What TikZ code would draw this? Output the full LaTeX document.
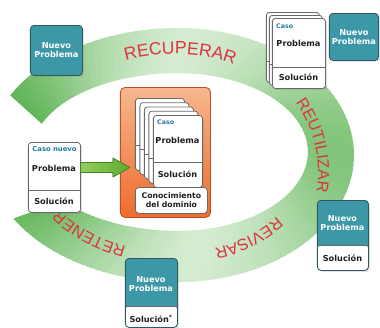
\documentclass[tikz,border=0pt]{standalone}
\usepackage{fontspec}
\setmainfont{DejaVu Sans}
\newfontfamily\ringfamily{Liberation Sans}
\usetikzlibrary{calc,decorations.text,shadows}

\definecolor{ringdark}{RGB}{72,170,62}
\definecolor{ringpale}{RGB}{236,246,233}
\definecolor{ringred}{RGB}{221,52,64}
\definecolor{tealbox}{RGB}{60,151,167}
\definecolor{tealline}{RGB}{48,88,98}
\definecolor{casoblue}{RGB}{35,125,165}
\definecolor{cardgray}{RGB}{105,105,105}
\definecolor{textdark}{RGB}{30,30,30}
\definecolor{orangetop}{RGB}{247,182,142}
\definecolor{orangebot}{RGB}{238,108,45}
\definecolor{orangeline}{RGB}{185,80,35}
\definecolor{arrowlight}{RGB}{150,205,90}
\definecolor{arrowdark}{RGB}{95,170,50}
\definecolor{arrowline}{RGB}{70,130,40}

\newcommand\ringword{\ringfamily\fontsize{15}{15}\selectfont\color{ringred}}
\newcommand\ringsmall{\ringfamily\fontsize{13.8}{14}\selectfont\color{ringred}}
\newcommand\cardfont{\bfseries\fontsize{7}{7.8}\selectfont}
\newcommand\tagfont{\bfseries\fontsize{5.4}{6}\selectfont}

\begin{document}
\begin{tikzpicture}[x=0.03cm,y=-0.03cm,line join=round,
  declare function={ringx(\t,\l,\r)=178+cos(\t)*(\l*(cos(\t)<0)+\r*(cos(\t)>=0));},
  softshadow/.style={drop shadow={shadow xshift=.05cm,shadow yshift=-.05cm,opacity=.22}},
  card/.style={draw=cardgray,fill=white,line width=.7pt,rounded corners=2.5pt,
    anchor=north west,inner sep=0pt,softshadow,
    path picture={\draw[cardgray,line width=.7pt]
      ([yshift=-#1]path picture bounding box.north west) --
      ([yshift=-#1]path picture bounding box.north east);}},
  npbox/.style={draw=tealline,fill=tealbox,line width=.7pt,rounded corners=3pt,
    anchor=north west,inner sep=0pt,softshadow},
  npcard/.style={npbox,
    path picture={\fill[white]
      ([yshift=-#1]path picture bounding box.north west) rectangle
      (path picture bounding box.south east);
      \draw[cardgray,line width=.7pt]
      ([yshift=-#1]path picture bounding box.north west) --
      ([yshift=-#1]path picture bounding box.north east);}},
  nplabel/.style={text=white,font=\cardfont,align=center,inner sep=0pt},
  cardtext/.style={text=textdark,font=\cardfont,inner sep=0pt},
  casotag/.style={text=casoblue,font=\tagfont,inner sep=0pt},
  ringtext/.style={decorate,decoration={text along path,text align=center,
    text={|\ringword|#1}}},
  ringtextsm/.style={decorate,decoration={text along path,text align=center,
    text={|\ringsmall|#1}}}]

\useasboundingbox (0,0) rectangle (380,328);

% the ring, filled piece by piece so the green fades round the loop
\foreach \i in {0,...,119}{
  \pgfmathsetmacro\sA{\i/120}
  \pgfmathsetmacro\sB{min(1,(\i+1.6)/120)}
  \pgfmathsetmacro\oA{208+302*\sA}
  \pgfmathsetmacro\oB{208+302*\sB}
  \pgfmathsetmacro\iA{201+301*\sA}
  \pgfmathsetmacro\iB{201+301*\sB}
  \pgfmathsetmacro\cA{cos(\oA)}
  \pgfmathtruncatemacro\pct{15+50*\cA*\cA+35*max(0,-\cA)}
  \fill[ringdark!\pct!ringpale]
    ({ringx(\oA,190,176)},{155+127*sin(\oA)}) --
    ({ringx(\oB,190,176)},{155+127*sin(\oB)}) --
    ({ringx(\iB,146,130)},{152+79*sin(\iB)}) --
    ({ringx(\iA,146,130)},{152+79*sin(\iA)}) -- cycle;
}

% the four steps written round the ring
\path[ringtext=RECUPERAR] plot[domain=241:305,samples=61]
  ({ringx(\x,145,128)},{153+99*sin(\x)});
\path[ringtextsm=REUTILIZAR] plot[domain=303:393,samples=61]
  ({185+133*cos(\x)},{172+125*sin(\x)});
\path[ringtextsm=REVISAR] plot[domain=20:90,samples=61]
  ({ringx(\x,145,128)},{153+100*sin(\x)});
\path[ringtextsm=RETENER] plot[domain=98:162,samples=61]
  ({ringx(\x,145,128)},{153+100*sin(\x)});

% new problem coming in
\node[npbox,minimum width=1.56cm,minimum height=1.5cm] (np1) at (30,25) {};
\node[nplabel] (np1t) at (np1.center) {Nuevo\\Problema};

% retrieved case next to the problem
\foreach \k in {2,1}
  \node[card=1.47cm,minimum width=1.59cm,minimum height=2.1cm] (rec\k) at ({272-3*\k},{18-3*\k}) {};
\node[card=1.47cm,minimum width=1.59cm,minimum height=2.1cm] (rec) at (272,18) {};
\node[casotag,anchor=west] (rect) at (276,26) {Caso};
\node[cardtext] (recp) at (298.5,43) {Problema};
\node[cardtext] (recs) at (298.5,77.5) {Solución};
\node[npbox,minimum width=1.47cm,minimum height=1.41cm] (np2) at (329,13) {};
\node[nplabel] (np2t) at (np2.center) {Nuevo\\Problema};

% case base with domain knowledge
\node[draw=orangeline,line width=.7pt,rounded corners=4pt,top color=orangetop,
  bottom color=orangebot,anchor=north west,inner sep=0pt,
  minimum width=2.7cm,minimum height=3.9cm] (base) at (120,87) {};
\foreach \k in {4,3,2,1}
  \node[card=1.41cm,minimum width=1.47cm,minimum height=2.16cm] (caso\k) at ({153-4.5*\k},{115-4.25*\k}) {};
\node[card=1.41cm,minimum width=1.47cm,minimum height=2.16cm] (caso) at (153,115) {};
\node[casotag,anchor=west] (casot) at (157,122) {Caso};
\node[cardtext] (casop) at (177.5,140) {Problema};
\node[cardtext] (casos) at (177.5,174.5) {Solución};
\node[draw=cardgray,fill=white,line width=.7pt,rounded corners=3pt,anchor=north west,
  inner sep=0pt,minimum width=2.16cm,minimum height=.78cm,align=center,
  text=textdark,font=\bfseries\fontsize{6.6}{7.4}\selectfont] (dominio) at (135,187)
  {Conocimiento\\del dominio};

% new case fed into the base
\node[card=1.44cm,minimum width=1.56cm,minimum height=2.1cm] (nuevo) at (28,142) {};
\node[casotag,font=\bfseries\fontsize{5.8}{6}\selectfont] (nuevot) at (54.5,149) {Caso nuevo};
\node[cardtext] (nuevop) at (54,168) {Problema};
\node[cardtext] (nuevos) at (54,201) {Solución};
\coordinate (tip) at (130,167.5);
\filldraw[draw=arrowline,line width=.6pt,left color=arrowlight,right color=arrowdark]
  ($(nuevo.east |- tip)+(0,-5)$) -- ($(tip)+(-17,-5)$) -- ($(tip)+(-17,-9.5)$) -- (tip)
  -- ($(tip)+(-17,9.5)$) -- ($(tip)+(-17,5)$) -- ($(nuevo.east |- tip)+(0,5)$) -- cycle;

% solved problem after reuse
\node[npcard=1.35cm,minimum width=1.53cm,minimum height=2.1cm] (rev) at (317,200) {};
\node[nplabel] (revt) at (342.5,223) {Nuevo\\Problema};
\node[cardtext] (revs) at (342.5,258) {Solución};

% revised solution kept
\node[npcard=1.44cm,minimum width=1.56cm,minimum height=2.07cm] (ret) at (125,258) {};
\node[nplabel] (rett) at (151,284) {Nuevo\\Problema};
\node[cardtext] (rets) at (151,319) {Solución\textsuperscript{*}};

\end{tikzpicture}
\end{document}
